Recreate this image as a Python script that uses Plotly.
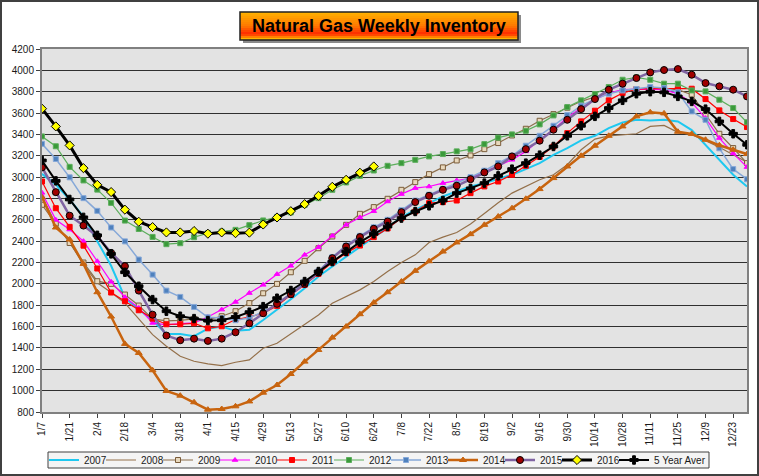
import plotly.graph_objects as go

# weekly categories (every other one is labelled on the axis)
weeks = ["1/7", "1/14", "1/21", "1/28", "2/4", "2/11", "2/18", "2/25", "3/4", "3/11",
         "3/18", "3/25", "4/1", "4/8", "4/15", "4/22", "4/29", "5/6", "5/13", "5/20",
         "5/27", "6/3", "6/10", "6/17", "6/24", "7/1", "7/8", "7/15", "7/22", "7/29",
         "8/5", "8/12", "8/19", "8/26", "9/2", "9/9", "9/16", "9/23", "9/30", "10/7",
         "10/14", "10/21", "10/28", "11/4", "11/11", "11/18", "11/25", "12/2", "12/9",
         "12/16", "12/23", "12/30"]
tick_weeks = weeks[::2]

y2007 = [3030, 2930, 2790, 2630, 2400, 2170, 1870, 1760, 1660, 1530, 1530, 1510, 1580,
         1600, 1560, 1570, 1662, 1756, 1856, 1959, 2069, 2163, 2256, 2350, 2438, 2522,
         2625, 2694, 2756, 2819, 2866, 2913, 2944, 2981, 3022, 3075, 3131, 3209, 3272,
         3344, 3387, 3459, 3512, 3537, 3531, 3537, 3522, 3440, 3300, 3162, 3022, 2912]
y2008 = [2820, 2560, 2390, 2180, 2010, 1920, 1820, 1670, 1525, 1416, 1322, 1275, 1250,
         1234, 1266, 1288, 1397, 1444, 1531, 1616, 1709, 1819, 1881, 1944, 2022, 2116,
         2200, 2272, 2387, 2438, 2481, 2560, 2660, 2760, 2850, 2912, 2975, 3022, 3116,
         3256, 3356, 3387, 3400, 3406, 3475, 3484, 3419, 3397, 3340, 3280, 3210, 3140]
y2009 = [2741, 2566, 2383, 2200, 2025, 2000, 1900, 1797, 1672, 1653, 1659, 1672, 1665,
         1697, 1744, 1820, 1912, 2000, 2109, 2216, 2334, 2444, 2553, 2656, 2719, 2797,
         2881, 2953, 3028, 3091, 3156, 3203, 3262, 3319, 3390, 3453, 3528, 3590, 3650,
         3710, 3750, 3790, 3810, 3820, 3830, 3830, 3820, 3772, 3584, 3406, 3272, 3131]
y2010 = [2853, 2600, 2509, 2400, 2212, 2019, 1875, 1775, 1634, 1616, 1628, 1634, 1690,
         1759, 1831, 1914, 1991, 2091, 2169, 2272, 2344, 2450, 2553, 2622, 2681, 2772,
         2841, 2897, 2912, 2944, 2969, 2991, 3047, 3105, 3162, 3241, 3350, 3444, 3562,
         3647, 3725, 3787, 3819, 3825, 3825, 3819, 3780, 3700, 3553, 3366, 3222, 3094]
y2011 = [2959, 2709, 2534, 2358, 2144, 1919, 1837, 1753, 1675, 1622, 1622, 1631, 1584,
         1603, 1666, 1690, 1725, 1794, 1897, 1991, 2094, 2200, 2288, 2359, 2438, 2519,
         2616, 2678, 2756, 2766, 2781, 2850, 2913, 2959, 3022, 3106, 3190, 3287, 3412,
         3522, 3622, 3719, 3787, 3825, 3828, 3828, 3828, 3828, 3731, 3625, 3544, 3469]
y2012 = [3381, 3289, 3096, 2969, 2883, 2759, 2593, 2514, 2440, 2372, 2381, 2437, 2475,
         2490, 2506, 2550, 2594, 2625, 2669, 2740, 2803, 2881, 2950, 3012, 3062, 3106,
         3131, 3162, 3194, 3216, 3241, 3262, 3309, 3370, 3400, 3434, 3494, 3578, 3656,
         3719, 3778, 3844, 3912, 3934, 3912, 3875, 3875, 3812, 3803, 3725, 3647, 3514]
y2013 = [3312, 3170, 2998, 2803, 2684, 2528, 2398, 2228, 2087, 1937, 1878, 1784, 1687,
         1680, 1660, 1680, 1740, 1810, 1910, 2020, 2120, 2250, 2360, 2450, 2530, 2600,
         2690, 2780, 2835, 2890, 2940, 3000, 3060, 3131, 3200, 3294, 3387, 3481, 3581,
         3669, 3731, 3781, 3812, 3825, 3844, 3834, 3795, 3616, 3537, 3270, 3075, 2980]
y2014 = [2811, 2528, 2415, 2187, 1922, 1694, 1438, 1353, 1191, 997, 953, 891, 822,
         828, 853, 899, 981, 1053, 1156, 1272, 1381, 1497, 1600, 1716, 1825, 1922,
         2022, 2122, 2212, 2303, 2388, 2466, 2553, 2631, 2709, 2797, 2888, 2991, 3100,
         3200, 3294, 3387, 3475, 3569, 3607, 3597, 3425, 3405, 3350, 3298, 3256, 3216]
y2015 = [3091, 2859, 2639, 2546, 2447, 2290, 2166, 1937, 1712, 1516, 1472, 1487, 1466,
         1487, 1547, 1631, 1725, 1813, 1903, 2000, 2106, 2241, 2350, 2438, 2516, 2584,
         2672, 2766, 2825, 2881, 2919, 2981, 3044, 3100, 3194, 3262, 3341, 3444, 3537,
         3637, 3731, 3819, 3875, 3928, 3981, 4003, 4012, 3959, 3881, 3850, 3819, 3756]
y2016 = [3641, 3475, 3297, 3084, 2928, 2860, 2695, 2582, 2532, 2482, 2482, 2495, 2470,
         2482, 2475, 2480, 2556, 2622, 2681, 2747, 2825, 2909, 2975, 3041, 3100]
y5yr = [3156, 2965, 2791, 2623, 2455, 2281, 2109, 1978, 1853, 1744, 1697, 1675, 1656,
        1659, 1690, 1735, 1787, 1866, 1938, 2022, 2116, 2209, 2303, 2391, 2469, 2537,
        2616, 2678, 2731, 2781, 2850, 2894, 2944, 3012, 3075, 3131, 3206, 3287, 3387,
        3481, 3569, 3647, 3719, 3781, 3800, 3794, 3756, 3709, 3637, 3522, 3406, 3303]

FONT = "Liberation Sans, Arial, sans-serif"

# pixel -> paper helpers (plot area 42..747 x 49..412)
L, R, T, B = 42, 747, 49, 412
def px(x):
    return (x - L) / (R - L)
def py(y):
    return (B - y) / (B - T)

fig = go.Figure()
legends = {}
leg_font = dict(family=FONT, size=10, color="#1a1a1a")

def add(name, ys, color, width, symbol=None, msize=6, mfill=None, mline=None):
    # one small legend per series so the row can be packed like the original
    i = len(fig.data)
    lid = "legend" if i == 0 else "legend%d" % (i + 1)
    legends[lid] = dict(orientation="h", x=px(44 + 57 * i), y=py(460),
                        xanchor="left", yanchor="middle", bgcolor="rgba(0,0,0,0)",
                        borderwidth=0, font=leg_font, itemwidth=30)
    mode = "lines" if symbol is None else "lines+markers"
    fig.add_trace(go.Scatter(
        x=weeks[:len(ys)], y=ys, name=name, mode=mode, legend=lid,
        line=dict(color=color, width=width),
        marker=dict(symbol=symbol or "circle", size=msize,
                    color=mfill or color,
                    line=dict(color=mline or color, width=1)),
    ))

add("2007", y2007, "#1EC8F0", 2)
add("2008", y2008, "#94704A", 1.2)
add("2009", y2009, "#8C6E4B", 1.2, "square", 5, "#E8D8BC", "#7A5C3A")
add("2010", y2010, "#FF00FF", 1.2, "triangle-up", 5)
add("2011", y2011, "#FF0000", 1.2, "square", 5)
add("2012", y2012, "#5CAE5C", 1.2, "square", 5, "#3A9A3A")
add("2013", y2013, "#86A8D8", 1.5, "square", 5, "#4F81BD")
add("2014", y2014, "#C8640F", 2.5, "triangle-up", 6)
add("2015", y2015, "#8064A2", 2.5, "circle", 7, "#A00000", "#000000")
add("2016", y2016, "#000000", 3, "diamond", 7, "#FFFF00", "#000000")
add("5 Year Aver", y5yr, "#000000", 2, "cross", 7)

shapes = []
# outer chart frame
shapes.append(dict(type="rect", xref="paper", yref="paper",
                   x0=px(1), x1=px(758), y0=py(475), y1=py(1),
                   line=dict(color="#404040", width=2), fillcolor="rgba(0,0,0,0)", layer="below"))
# legend box
shapes.append(dict(type="rect", xref="paper", yref="paper",
                   x0=px(48), x1=px(709), y0=py(468), y1=py(452),
                   line=dict(color="#404040", width=1), fillcolor="#F4F4F4", layer="below"))
# title box: shadow, gradient strips, border
bx0, bx1, by0, by1 = 240, 518, 12, 40
shapes.append(dict(type="rect", xref="paper", yref="paper",
                   x0=px(bx0 + 3), x1=px(bx1 + 3), y0=py(by1 + 3), y1=py(by0 + 3),
                   line=dict(width=0), fillcolor="#8a8a8a", layer="above"))
stops = [(0.0, (255, 180, 0)), (0.5, (255, 120, 0)), (0.78, (255, 40, 0)), (1.0, (255, 210, 0))]
def grad(t):
    for (t0, c0), (t1, c1) in zip(stops, stops[1:]):
        if t <= t1:
            f = (t - t0) / (t1 - t0)
            return "rgb(%d,%d,%d)" % tuple(round(a + (b - a) * f) for a, b in zip(c0, c1))
    return "rgb(%d,%d,%d)" % stops[-1][1]
n = 14
for i in range(n):
    ya = by0 + (by1 - by0) * i / n
    yb = by0 + (by1 - by0) * (i + 1) / n
    shapes.append(dict(type="rect", xref="paper", yref="paper",
                       x0=px(bx0), x1=px(bx1), y0=py(yb), y1=py(ya),
                       line=dict(width=0), fillcolor=grad((i + 0.5) / n), layer="above"))
shapes.append(dict(type="rect", xref="paper", yref="paper",
                   x0=px(bx0), x1=px(bx1), y0=py(by1), y1=py(by0),
                   line=dict(color="#202020", width=1.5), fillcolor="rgba(0,0,0,0)", layer="above"))

fig.update_layout(
    width=759, height=476,
    margin=dict(l=L, r=759 - R, t=T, b=476 - B, autoexpand=False),
    paper_bgcolor="white", plot_bgcolor="#E3E3E3",
    font=dict(family=FONT, size=11, color="#1a1a1a"),
    shapes=shapes,
    annotations=[dict(text="<b>Natural Gas Weekly Inventory</b>", xref="paper", yref="paper",
                      x=px((bx0 + bx1) / 2), y=py((by0 + by1) / 2), showarrow=False,
                      yanchor="middle", xanchor="center",
                      font=dict(family=FONT, size=18, color="#000000"))],
    showlegend=True,
    xaxis=dict(type="category", categoryorder="array", categoryarray=weeks,
               range=[0, len(weeks) - 1], tickmode="array", tickvals=tick_weeks,
               ticktext=tick_weeks, tickangle=-90, showgrid=False,
               showline=True, linecolor="#808080", linewidth=2, mirror=True,
               ticks="outside", ticklen=4, tickcolor="#404040",
               tickfont=dict(size=10)),
    yaxis=dict(range=[800, 4200], dtick=200, tick0=800, showgrid=True,
               gridcolor="#303030", gridwidth=1, zeroline=False,
               showline=True, linecolor="#808080", linewidth=2, mirror=True,
               ticks="outside", ticklen=4, tickcolor="#404040",
               tickfont=dict(size=10)),
)
fig.update_layout(**legends)

# drop the browser's default page margin so the figure sits at the window's corner
fig.write_html("out.html", config={"displayModeBar": False},
               post_script="document.body.style.margin='0';")
